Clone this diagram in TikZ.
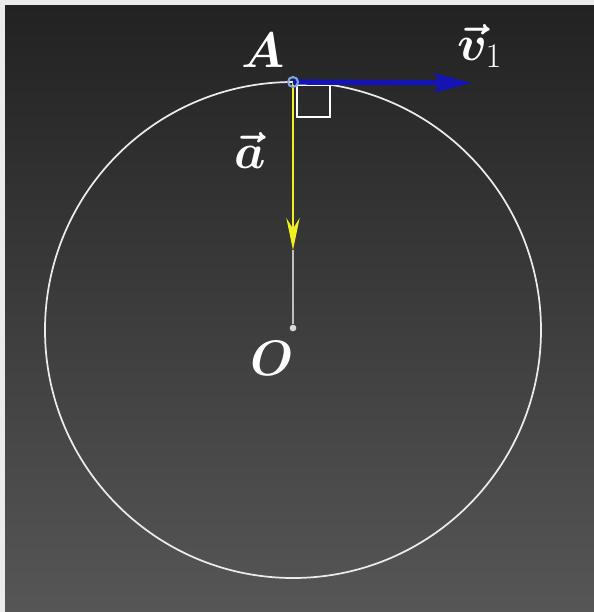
\documentclass[tikz,border=0pt]{standalone}
\usepackage{amsmath,amssymb,bm}
\usetikzlibrary{arrows.meta}
\definecolor{frame}{HTML}{EBEBEB}
\definecolor{bgtop}{HTML}{222222}
\definecolor{bgbot}{HTML}{565656}
\definecolor{vblue}{HTML}{1414B4}
\definecolor{ayellow}{HTML}{F0F020}
\definecolor{lblue}{HTML}{7FA8E0}
\begin{document}
\begin{tikzpicture}[x=0.75pt,y=-0.75pt,
  lbl/.style={text=white,inner sep=0pt,font=\Huge,scale=1.5},
  circ/.style={draw=white!92!black,line width=1.3pt}]
\useasboundingbox (0,0) rectangle (594,612);
\fill[frame] (0,0) rectangle (594,612);
\shade[top color=bgtop,bottom color=bgbot] (5,5) rectangle (594,612);
\coordinate (C) at (293,330);
\draw[circ] (C) circle[radius=248];
\coordinate (A) at (293,82);
\node[circle,fill=white!85!black,inner sep=0pt,minimum size=5pt] (O) at (293,328) {};
\coordinate (Y) at (293,250);
\coordinate (V) at (472,83);
% right angle mark
\draw[white,line width=1.3pt] (297,85) rectangle (330,117);
% gray line to O
\draw[white!75!black,line width=1.3pt] (Y) -- (O);
% yellow acceleration
\draw[ayellow,line width=1.6pt,-{Stealth[length=24pt,width=10pt,inset=8pt]}] (A) -- (Y);
% blue velocity
\draw[vblue,line width=4pt,-{Stealth[length=28pt,width=14pt,inset=4pt]}] (A) -- (V);
\draw[lblue,line width=1.5pt] (A) circle[radius=5];
% labels
\node[lbl] (la) at (263,50) {$\bm{A}$};
\node[lbl] (lv) at (480,46) {$\bm{\vec{v}}_{\scriptscriptstyle 1}$};
\node[lbl] (laa) at (250,150) {$\bm{\vec{a}}$};
\node[lbl] (lo) at (272,358) {$\bm{O}$};
\end{tikzpicture}
\end{document}
